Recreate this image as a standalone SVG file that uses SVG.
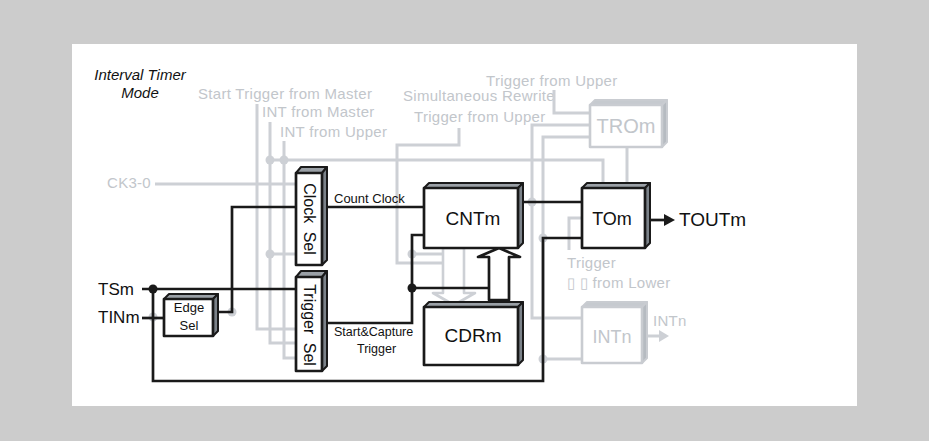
<svg xmlns="http://www.w3.org/2000/svg" width="929" height="441" viewBox="0 0 929 441">
<style>
.gl{fill:none;stroke:#cdd0d5;stroke-width:3}
.bl{fill:none;stroke:#1a1a1a;stroke-width:2.7}
.gd{fill:#cdd0d5}
.bd{fill:#1a1a1a}
.gt{font-family:"Liberation Sans",Arial,sans-serif;font-size:15px;letter-spacing:0.3px;fill:#c2c6cb}
.bt{font-family:"Liberation Sans",Arial,sans-serif;fill:#111}
.front{fill:#fff;stroke:#1a1a1a;stroke-width:2.7;stroke-linejoin:round}
.top{fill:#9aa0a6;stroke:#1a1a1a;stroke-width:2;stroke-linejoin:round}
.side{fill:#7b8289;stroke:#1a1a1a;stroke-width:2;stroke-linejoin:round}
.gfront{fill:#fff;stroke:#c9ccd1;stroke-width:2.6;stroke-linejoin:round}
.gtop{fill:#c6cacf;stroke:#c9ccd1;stroke-width:2;stroke-linejoin:round}
.gside{fill:#b6bbc1;stroke:#c9ccd1;stroke-width:2;stroke-linejoin:round}
</style>
<rect x="0" y="0" width="929" height="441" fill="#cccccc"/>
<rect x="72" y="44" width="785" height="362" fill="#ffffff"/>

<text class="bt" x="140" y="80" font-size="15" font-style="italic" text-anchor="middle">Interval Timer</text>
<text class="bt" x="140" y="98" font-size="15" font-style="italic" text-anchor="middle">Mode</text>

<g id="labels-gray">
<text class="gt" x="198" y="99">Start Trigger from Master</text>
<text class="gt" x="262" y="117">INT from Master</text>
<text class="gt" x="280" y="137">INT from Upper</text>
<text class="gt" x="403" y="101">Simultaneous Rewrite</text>
<text class="gt" x="414" y="122">Trigger from Upper</text>
<text class="gt" x="486" y="86">Trigger from Upper</text>
<text class="gt" x="107" y="188">CK3-0</text>
<text class="gt" x="567" y="268">Trigger</text>
<text class="gt" x="567" y="288">▯ ▯ from Lower</text>
<text class="gt" x="653" y="326">INTn</text>
</g>

<g id="connectors">
<path class="gl" d="M155 184 H296"/>
<path class="gl" d="M257 104 V329 H296"/>
<path class="gl" d="M270 122 V343 H296"/>
<path class="gl" d="M270 254 H296"/>
<path class="gl" d="M284 141 V358 H296"/>
<path class="gl" d="M270 160 H603 V183"/>
<path class="gl" d="M459 128 V145 H397 V263 H464"/>
<path class="gl" d="M412 254 H443"/>
<path class="gl" d="M554 90 V113 H590"/>
<path class="gl" d="M590 125 H532 V318 H582"/>
<path class="gl" d="M590 137 H543 V359 H582"/>
<path class="gl" d="M627 147 V183"/>
<path class="gl" d="M569 250 V218 H582"/>
<path class="gl" d="M646 336 H661"/>
<polygon points="659,330 669,336 659,342" fill="#cdd0d5"/>
<polygon points="443,248 464,248 464,293 475,293 454,305 433,293 443,293" fill="#fff" stroke="#cdd0d5" stroke-width="2.6" stroke-linejoin="round"/>
<circle class="gd" cx="270" cy="160" r="4.5"/>
<circle class="gd" cx="284" cy="160" r="4.5"/>
<circle class="gd" cx="270" cy="254" r="4.5"/>
<circle class="gd" cx="232" cy="312" r="4.5"/>
<circle class="gd" cx="153" cy="317" r="4.5"/>
<circle class="gd" cx="412" cy="254" r="4.5"/>
<circle class="gd" cx="532" cy="202" r="4.5"/>
<circle class="gd" cx="543" cy="238" r="4.5"/>
<circle class="gd" cx="543" cy="359" r="4.5"/>

<path class="bl" d="M142 289 H296"/>
<path class="bl" d="M142 318 H164"/>
<path class="bl" d="M153 289 V381 H543 V238 H582"/>
<path class="bl" d="M213 312 H232 V207 H296"/>
<path class="bl" d="M327 207 H424"/>
<path class="bl" d="M327 323 H412 V235 H424"/>
<path class="bl" d="M412 288 H489"/>
<path class="bl" d="M523 202 H582"/>
<path class="bl" d="M646 220 H666"/>
<polygon points="664,214 675,220 664,226" fill="#1a1a1a"/>
<polygon points="489,300 489,257 478,257 499,248 520,257 509,257 509,300" fill="#fff" stroke="#1a1a1a" stroke-width="2.7" stroke-linejoin="round"/>
<circle class="bd" cx="153" cy="289" r="4.5"/>
<circle class="bd" cx="412" cy="288" r="4.5"/>
</g>

<g id="ClockSel">
<polygon class="top" points="296,173 301,167 327,167 322,173"/>
<polygon class="side" points="322,173 327,167 327,260 322,265"/>
<rect class="front" x="296" y="173" width="26" height="92"/>
<text class="bt" font-size="16" word-spacing="4" text-anchor="middle" transform="translate(309,219) rotate(90)" x="0" y="5.5">Clock Sel</text>
</g>

<g id="TriggerSel">
<polygon class="top" points="296,277 301,271 327,271 322,277"/>
<polygon class="side" points="322,277 327,271 327,366 322,371"/>
<rect class="front" x="296" y="277" width="26" height="94"/>
<text class="bt" font-size="16" word-spacing="4" text-anchor="middle" transform="translate(309,325) rotate(90)" x="0" y="5.5">Trigger Sel</text>
</g>

<g id="EdgeSel">
<polygon class="top" points="164,299 169,294 218,294 213,299"/>
<polygon class="side" points="213,299 218,294 218,331 213,336"/>
<rect class="front" x="164" y="299" width="49" height="37"/>
<text class="bt" font-size="13" text-anchor="middle" x="189" y="312">Edge</text>
<text class="bt" font-size="13" text-anchor="middle" x="189" y="330">Sel</text>
</g>

<text class="bt" font-size="17" x="98" y="295">TSm</text>
<text class="bt" font-size="17" x="98" y="323">TINm</text>
<text class="bt" font-size="13" x="334" y="203">Count Clock</text>
<text class="bt" font-size="12.5" x="334" y="336">Start&amp;Capture</text>
<text class="bt" font-size="12.5" x="357" y="353">Trigger</text>

<g id="CNTm">
<polygon class="top" points="424,188 429,183 523,183 518,188"/>
<polygon class="side" points="518,188 523,183 523,243 518,248"/>
<rect class="front" x="424" y="188" width="94" height="60"/>
<text class="bt" font-size="19" text-anchor="middle" x="473" y="225">CNTm</text>
</g>

<g id="CDRm">
<polygon class="top" points="424,307 429,302 523,302 518,307"/>
<polygon class="side" points="518,307 523,302 523,360 518,365"/>
<rect class="front" x="424" y="307" width="94" height="58"/>
<text class="bt" font-size="19" text-anchor="middle" x="473" y="342">CDRm</text>
</g>

<g id="TOm">
<polygon class="top" points="582,188 587,183 650,183 645,188"/>
<polygon class="side" points="645,188 650,183 650,243 645,248"/>
<rect class="front" x="582" y="188" width="63" height="60"/>
<text class="bt" font-size="18" text-anchor="middle" x="612" y="225">TOm</text>
</g>
<text class="bt" font-size="19" x="679" y="226">TOUTm</text>

<g id="TROm">
<polygon class="gtop" points="590,105 595,100 667,100 662,105"/>
<polygon class="gside" points="662,105 667,100 667,142 662,147"/>
<rect class="gfront" x="590" y="105" width="72" height="42"/>
<text font-family="Liberation Sans,Arial,sans-serif" font-size="20" fill="#c2c6cb" text-anchor="middle" x="626" y="133">TROm</text>
</g>

<g id="INTn">
<polygon class="gtop" points="582,307 587,302 647,302 642,307"/>
<polygon class="gside" points="642,307 647,302 647,358 642,363"/>
<rect class="gfront" x="582" y="307" width="60" height="56"/>
<text font-family="Liberation Sans,Arial,sans-serif" font-size="18" fill="#c2c6cb" text-anchor="middle" x="612" y="343">INTn</text>
</g>
</svg>
